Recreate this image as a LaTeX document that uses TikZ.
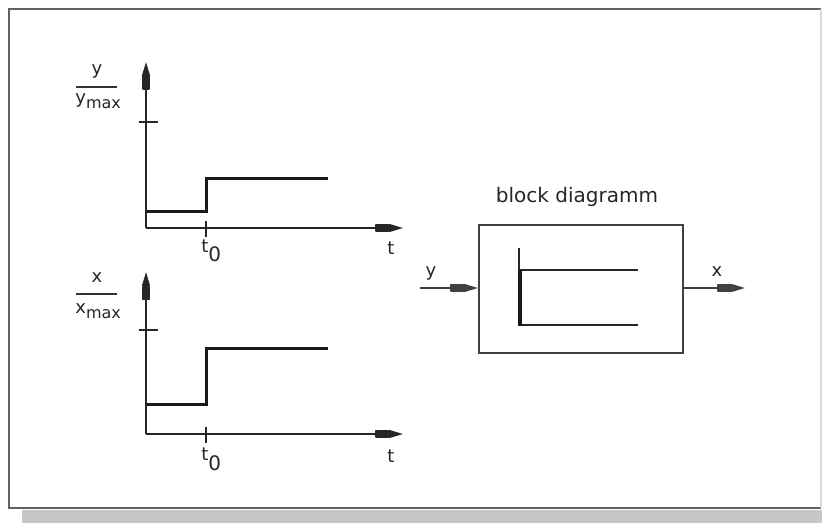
\documentclass[tikz,border=0pt]{standalone}
\usepackage{fontspec}
\setmainfont{DejaVu Sans}
\usetikzlibrary{arrows.meta}
\begin{document}
\begin{tikzpicture}[x=0.5pt,y=-0.5pt,
  tipshape/.tip={Rectangle[length=7pt,width=3.8pt,sep=0pt,round]Triangle[length=7pt,width=4pt,sep=0pt]},
  axis/.style={line width=0.75pt, draw=black!85, -{tipshape}},
  tickmark/.style={line width=0.6pt, draw=black!85},
  signal/.style={line width=1.5pt, draw=black!90},
  fracbar/.style={line width=0.6pt, draw=black!80},
  lbl/.style={font=\fontsize{9}{10}\selectfont, text=black!85, inner sep=0pt},
  title/.style={font=\fontsize{10}{12}\selectfont, text=black!85, inner sep=0pt},
  blockbox/.style={draw=black!75, line width=1pt, minimum width=102pt, minimum height=64pt, inner sep=0pt},
  flow/.style={line width=0.75pt, draw=black!75, -{tipshape}}
]
\useasboundingbox (0,0) rectangle (822,523);

% frame with drop shadow
\fill[black!22] (22,510) rectangle (822,523);
\draw[line width=1.2pt, draw=black!62] (821,9) -- (9,9) -- (9,508) -- (821,508);
\draw[line width=0.6pt, draw=black!15] (821,9) -- (821,508);

% ---------- upper plot: y / y_max ----------
\coordinate (o1) at (146,228);
\coordinate (ytop1) at (146,62);
\coordinate (xend1) at (403,228);
\draw[axis] (o1) -- (ytop1);
\draw[axis] (o1) -- (xend1);
\draw[tickmark] (139,122) -- (158,122);
\draw[tickmark] (206,221) -- (206,237);
\draw[signal] (146.5,212) -- (206,212) -- (206,179) -- (328,179);
\node[lbl, anchor=base] (ynum) at (97,75) {y};
\draw[fracbar] (76,87) -- (117,87);
\node[lbl, anchor=base west] (yden) at (75,104) {y\raisebox{-2.5pt}{\fontsize{8}{9}\selectfont max}};
\node[lbl, anchor=base west] (t01) at (201,252) {t\raisebox{-5pt}{\fontsize{10}{11}\selectfont 0}};
\node[lbl, anchor=base] (t1) at (391,255) {t};

% ---------- lower plot: x / x_max ----------
\coordinate (o2) at (146,434);
\coordinate (ytop2) at (146,272);
\coordinate (xend2) at (403,434);
\draw[axis] (o2) -- (ytop2);
\draw[axis] (o2) -- (xend2);
\draw[tickmark] (139,330) -- (158,330);
\draw[tickmark] (206,427) -- (206,443);
\draw[signal] (146.5,404) -- (206,404) -- (206,348) -- (328,348);
\node[lbl, anchor=base] (xnum) at (97,282) {x};
\draw[fracbar] (76,294) -- (117,294);
\node[lbl, anchor=base west] (xden) at (75,313) {x\raisebox{-2.5pt}{\fontsize{8}{9}\selectfont max}};
\node[lbl, anchor=base west] (t02) at (201,460) {t\raisebox{-5pt}{\fontsize{10}{11}\selectfont 0}};
\node[lbl, anchor=base] (t2) at (391,462) {t};

% ---------- block diagram ----------
\node[title, anchor=base] (btitle) at (577,203) {block diagramm};
\node[blockbox] (blk) at (581,289) {};
\draw[line width=0.75pt, draw=black!85] (519,248) -- (519,272);
\draw[line width=1pt, draw=black!85] (519,270) -- (638,270);
\draw[line width=1pt, draw=black!85] (519,325) -- (638,325);
\draw[line width=2pt, draw=black!90] (520,270) -- (520,326);

\coordinate (yin) at (420,288);
\coordinate (xout) at (745,288);
\draw[flow] (yin) -- (blk.west |- yin);
\draw[flow] (blk.east |- xout) -- (xout);
\node[lbl, anchor=base] (ylbl) at (431,276) {y};
\node[lbl, anchor=base] (xlbl) at (717,277) {x};
\end{tikzpicture}
\end{document}
